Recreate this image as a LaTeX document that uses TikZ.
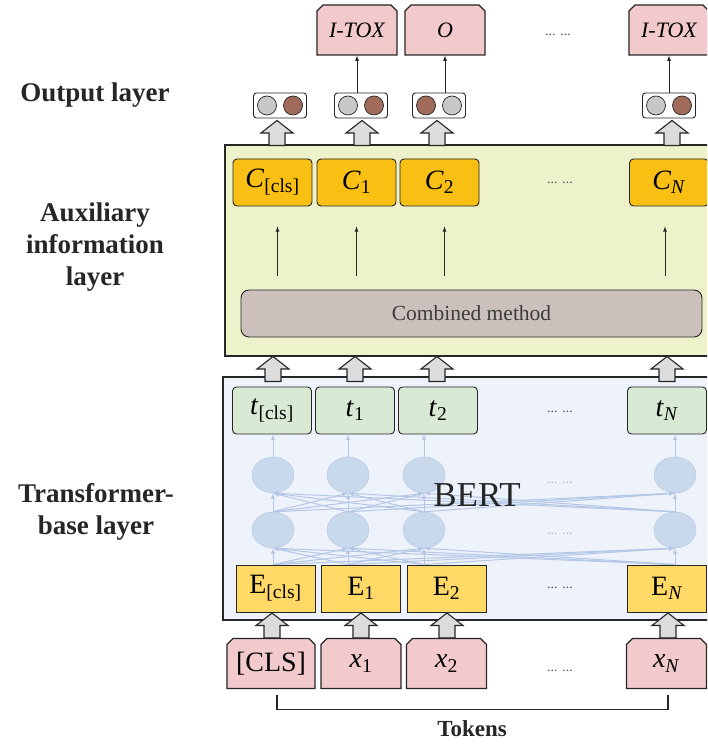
\documentclass[tikz,border=0pt]{standalone}
\usepackage{fontspec}
\setmainfont{Liberation Serif}
\usetikzlibrary{shapes.misc,shapes.geometric}

\definecolor{auxfill}{HTML}{EDF2CA}
\definecolor{bertfill}{HTML}{EEF2FA}
\definecolor{cfill}{HTML}{F9C013}
\definecolor{efill}{HTML}{FFD966}
\definecolor{tfill}{HTML}{D8EAD3}
\definecolor{tokfill}{HTML}{F2CACB}
\definecolor{combfill}{HTML}{CBC0BC}
\definecolor{ballgray}{HTML}{C8C8C8}
\definecolor{ballbrown}{HTML}{A06B5A}
\definecolor{neuronfill}{HTML}{C9D9EC}
\definecolor{neuronline}{HTML}{B4C7E7}
\definecolor{blockfill}{HTML}{DCDCDC}
\definecolor{edge}{HTML}{262626}

\tikzset{
  lbl/.style={font=\bfseries\fontsize{27}{32}\selectfont, align=center, text=edge},
  tokbox/.style={chamfered rectangle, chamfered rectangle corners={north west,north east},
    chamfered rectangle sep=3pt, draw=edge, line width=1.3pt, fill=tokfill,
    minimum width=80pt, minimum height=50pt, inner sep=0pt, font=\fontsize{28}{30}\selectfont},
  outbox/.style={tokbox, font=\itshape\fontsize{22}{24}\selectfont},
  cbox/.style={rectangle, rounded corners=4pt, draw=edge, line width=.9pt, fill=cfill,
    minimum width=79pt, minimum height=47pt, inner sep=0pt, font=\fontsize{28}{30}\selectfont},
  tbox/.style={cbox, fill=tfill},
  ebox/.style={cbox, rounded corners=0pt, fill=efill},
  pairbox/.style={rectangle, rounded corners=3pt, draw=edge, line width=.9pt, fill=white,
    minimum width=53pt, minimum height=25pt},
  ball/.style={circle, draw=edge, line width=.7pt, minimum size=19pt, inner sep=0pt},
  neuron/.style={ellipse, draw=neuronline, fill=neuronfill, minimum width=42pt, minimum height=36pt},
  bertarr/.style={neuronline, line width=1pt, -latex},
  thinarr/.style={edge, line width=.8pt, -latex},
  dots/.style={font=\fontsize{14}{16}\selectfont, text=edge!80},
  lightdots/.style={dots, text=neuronline!80!gray},
  hollowup/.pic={\draw[fill=blockfill, draw=edge, line width=1.1pt, line join=miter]
    (-8,-12.5) -- (-8,0) -- (-16,0) -- (0,12.5) -- (16,0) -- (8,0) -- (8,-12.5) -- cycle;}
}

\begin{document}
\begin{tikzpicture}[x=1pt, y=1pt]
\clip (0,0) rectangle (707,744);

% layer backgrounds
\draw[fill=auxfill, draw=edge, line width=1.3pt] (225,388) rectangle (740,599);
\draw[fill=bertfill, draw=edge, line width=1.3pt] (223,124) rectangle (740,367);

% side labels
\node[lbl] (outlbl) at (95,649) {Output layer};
\node[lbl] (auxlbl) at (95,497) {Auxiliary\\information\\layer};
\node[lbl] (translbl) at (96,232) {Transformer-\\base layer};

% output layer
\node[outbox] (o1) at (357,714) {I-TOX};
\node[outbox] (o2) at (445,714) {O};
\node[outbox] (oN) at (669,714) {I-TOX};
\node[dots] (odots) at (558,709) {... ...};

\foreach \n/\x/\l/\r in {cls/280/ballgray/ballbrown, 1/361/ballgray/ballbrown,
                         2/439/ballbrown/ballgray, N/669/ballgray/ballbrown}{
  \node[pairbox] (p\n) at (\x,638.5) {};
  \node[ball, fill=\l] (pl\n) at ([xshift=-13pt]p\n.center) {};
  \node[ball, fill=\r] (pr\n) at ([xshift=13pt]p\n.center) {};
}
\draw[thinarr] (p1.north -| o1.south) -- (o1.south);
\draw[thinarr] (p2.north -| o2.south) -- (o2.south);
\draw[thinarr] (pN.north -| oN.south) -- (oN.south);

% auxiliary information layer
\foreach \x in {277,362,437,672} \pic at (\x,611) {hollowup};
\node[cbox] (ccls) at (272.5,561.5) {\textit{C}\textsubscript{[cls]}};
\node[cbox] (c1) at (356.5,561.5) {\textit{C}\textsubscript{1}};
\node[cbox] (c2) at (439.5,561.5) {\textit{C}\textsubscript{2}};
\node[cbox] (cN) at (669,561.5) {\textit{C}\textsubscript{\textit{N}}};
\node[dots] (cdots) at (560,561) {... ...};

\node[rectangle, rounded corners=8pt, draw=edge, line width=.9pt, fill=combfill,
  minimum width=461pt, minimum height=47pt, text=edge!90,
  font=\fontsize{21.5}{24}\selectfont] (comb) at (471.5,430.5) {Combined method};
\draw[thinarr] ([xshift=5pt,yshift=14pt]comb.north -| ccls.south) -- ([xshift=5pt,yshift=-20pt]ccls.south);
\draw[thinarr] ([yshift=14pt]comb.north -| c1.south) -- ([yshift=-20pt]c1.south);
\draw[thinarr] ([xshift=5pt,yshift=14pt]comb.north -| c2.south) -- ([xshift=5pt,yshift=-20pt]c2.south);
\draw[thinarr] ([xshift=-4pt,yshift=14pt]comb.north -| cN.south) -- ([xshift=-4pt,yshift=-20pt]cN.south);

% transformer-base layer
\foreach \x in {273,355,437,667} \pic at (\x,375) {hollowup};
\node[tbox] (tcls) at (272,333.5) {\textit{t}\textsubscript{[cls]}};
\node[tbox] (t1) at (355,333.5) {\textit{t}\textsubscript{1}};
\node[tbox] (t2) at (438,333.5) {\textit{t}\textsubscript{2}};
\node[tbox] (tN) at (667,333.5) {\textit{t}\textsubscript{\textit{N}}};
\node[dots] (tdots) at (560,332) {... ...};

\foreach \n/\x in {cls/273, 1/348, 2/424, N/675}{
  \node[neuron] (ha\n) at (\x,269) {};
  \node[neuron] (hb\n) at (\x,214) {};
}
\node[lightdots] (hadots) at (560,261) {... ...};
\node[lightdots] (hbdots) at (560,210) {... ...};

\node[ebox] (ecls) at (275.5,155.5) {E\textsubscript{[cls]}};
\node[ebox] (e1) at (361,155.5) {E\textsubscript{1}};
\node[ebox] (e2) at (446.5,155.5) {E\textsubscript{2}};
\node[ebox] (eN) at (667,155.5) {E\textsubscript{\textit{N}}};
\node[dots] (edots) at (560,156) {... ...};

\foreach \i in {cls,1,2,N}{
  \foreach \j in {cls,1,2,N}{
    \draw[bertarr] (e\i.north -| hb\i.south) -- (hb\j.south);
    \draw[bertarr] (hb\i.north) -- (ha\j.south);
  }
  \draw[bertarr] (ha\i.north) -- (ha\i.north |- t\i.south);
}
\node[font=\fontsize{35}{38}\selectfont, text=edge] (bert) at (477,249) {BERT};

% tokens
\foreach \x in {272,361,447,668} \pic at (\x,118.5) {hollowup};
\node[tokbox, minimum width=88pt] (xcls) at (271,80.5) {[CLS]};
\node[tokbox] (x1) at (361,80.5) {\textit{x}\textsubscript{1}};
\node[tokbox] (x2) at (446.5,80.5) {\textit{x}\textsubscript{2}};
\node[tokbox] (xN) at (666.5,80.5) {\textit{x}\textsubscript{\textit{N}}};
\node[dots] (xdots) at (560,73) {... ...};

\draw[edge, line width=1.2pt] ([xshift=6pt,yshift=-6pt]xcls.south) -- ++(0,-14)
  -| ([xshift=1.5pt,yshift=-6pt]xN.south);
\node[font=\bfseries\fontsize{23}{25}\selectfont, text=edge, inner sep=0pt] (toklbl) at (472,15) {Tokens};
\end{tikzpicture}
\end{document}
